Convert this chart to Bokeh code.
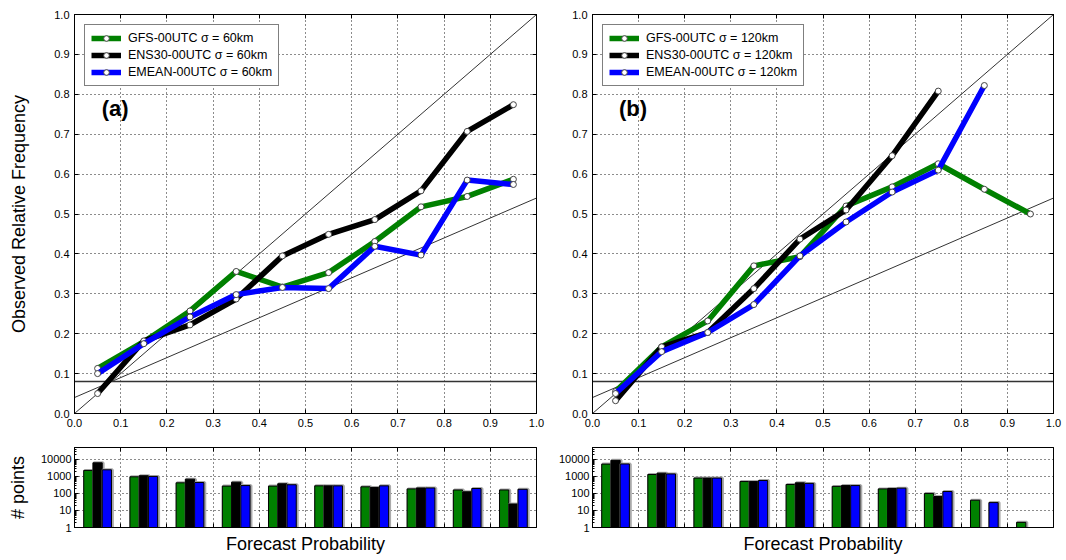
import math
from bokeh.plotting import figure
from bokeh.layouts import row, column
from bokeh.models import (Range1d, FixedTicker, PrintfTickFormatter, Legend, LegendItem,
                          Label, LinearAxis, NumeralTickFormatter)
from bokeh.embed import file_html
from bokeh.resources import INLINE

NaN = float("nan")

# ---------------- data ----------------
prob_bins = [0.05, 0.15, 0.25, 0.35, 0.45, 0.55, 0.65, 0.75, 0.85, 0.95]

# panel (a) sigma = 60 km : observed relative frequency
gfs_a = [0.113, 0.180, 0.257, 0.356, 0.317, 0.353, 0.431, 0.518, 0.544, 0.587]
ens_a = [0.050, 0.182, 0.222, 0.287, 0.395, 0.449, 0.486, 0.558, 0.707, 0.774]
emean_a = [0.100, 0.175, 0.242, 0.298, 0.316, 0.313, 0.419, 0.397, 0.585, 0.574]

# panel (b) sigma = 120 km
gfs_b = [0.055, 0.167, 0.232, 0.370, 0.393, 0.520, 0.568, 0.626, 0.562, 0.500]
ens_b = [0.032, 0.167, 0.203, 0.313, 0.437, 0.510, 0.646, 0.808, NaN, NaN]
emean_b = [0.050, 0.155, 0.203, 0.273, 0.395, 0.480, 0.555, 0.610, 0.822, NaN]

# number of points per bin
n_gfs_a = [2250, 950, 420, 270, 270, 280, 245, 185, 160, 160]
n_ens_a = [6300, 1100, 690, 460, 370, 280, 225, 210, 125, 24]
n_emean_a = [2450, 1000, 440, 290, 325, 280, 280, 210, 195, 175]

n_gfs_b = [5300, 1300, 800, 500, 335, 260, 185, 100, 40, 2]
n_ens_b = [8800, 1550, 800, 500, 420, 290, 195, 66, 0, 0]
n_emean_b = [5400, 1400, 800, 575, 390, 290, 205, 130, 29, 0]

climatology_a = 0.08
climatology_b = 0.08

labels_a = ["GFS-00UTC σ = 60km", "ENS30-00UTC σ = 60km", "EMEAN-00UTC σ = 60km"]
labels_b = ["GFS-00UTC σ = 120km", "ENS30-00UTC σ = 120km", "EMEAN-00UTC σ = 120km"]

colors = ["#008000", "#000000", "#0000ff"]
bar_offsets = [-0.02, 0.0, 0.02]
bar_width = 0.02

FONT = "Liberation Sans"
ticks01 = [round(i * 0.1, 1) for i in range(11)]


def style_axis(ax, size="11px"):
    ax.major_label_text_font = FONT
    ax.major_label_text_font_size = size
    ax.major_label_text_color = "black"
    ax.axis_line_color = "black"
    ax.major_tick_in = 4
    ax.major_tick_out = 0
    ax.minor_tick_in = 0
    ax.minor_tick_out = 0
    ax.major_tick_line_color = "black"
    ax.axis_label_text_font = FONT
    ax.axis_label_text_font_style = "normal"
    ax.axis_label_text_font_size = "18px"
    ax.axis_label_text_color = "black"


def hide_labels(ax):
    ax.major_label_text_font_size = "1px"
    ax.major_label_text_color = None
    ax.major_label_standoff = 0


def mirror_axis(p, side, ticker):
    ax = LinearAxis(ticker=ticker)
    style_axis(ax)
    hide_labels(ax)
    p.add_layout(ax, side)


def reliability(series, labels, clim, tag, bl, br, width, ylabel):
    p = figure(width=width, height=440, x_range=Range1d(0, 1), y_range=Range1d(0, 1),
               output_backend="svg", toolbar_location=None,
               min_border_left=bl, min_border_right=br, min_border_top=14, min_border_bottom=27)
    p.background_fill_color = "white"
    p.border_fill_color = "white"
    p.outline_line_color = "black"
    p.outline_line_width = 1
    tk = FixedTicker(ticks=ticks01)
    p.xaxis.ticker = tk
    p.yaxis.ticker = tk
    p.xaxis.formatter = PrintfTickFormatter(format="%.1f")
    p.yaxis.formatter = PrintfTickFormatter(format="%.1f")
    for ax in p.xaxis + p.yaxis:
        style_axis(ax)
        ax.major_label_standoff = 5
    p.yaxis.axis_label = ylabel
    p.yaxis.axis_label_standoff = 22
    mirror_axis(p, "right", tk)
    mirror_axis(p, "above", tk)
    for g in (p.xgrid, p.ygrid):
        g.grid_line_color = "black"
        g.grid_line_dash = "1 3"
        g.grid_line_width = 1
        g.grid_line_alpha = 0.9

    # reference lines: perfect reliability, no-skill, climatology
    p.line([0, 1], [0, 1], line_color="#333333", line_width=1)
    p.line([0, 1], [clim / 2, (1 + clim) / 2], line_color="#333333", line_width=1)
    p.line([0, 1], [clim, clim], line_color="#333333", line_width=1.5)

    items = []
    for ys, lab, col in zip(series, labels, colors):
        lr = p.line(prob_bins, ys, line_color=col, line_width=5.5)
        sr = p.scatter(prob_bins, ys, marker="circle", size=6, fill_color="white",
                       line_color="#444444", line_width=1)
        items.append(LegendItem(label=lab, renderers=[lr, sr]))

    leg = Legend(items=items, location="top_left", margin=10, padding=6, spacing=3,
                 glyph_width=30, glyph_height=14, label_standoff=7,
                 label_text_font=FONT, label_text_font_size="12.5px",
                 label_text_color="black",
                 border_line_color="black", border_line_width=1.2,
                 background_fill_color="white", background_fill_alpha=1)
    p.add_layout(leg)

    p.add_layout(Label(x=0.088, y=0.765, text=tag, text_font=FONT, text_font_size="22px",
                       text_color="black",
                       text_font_style="bold", text_align="center", text_baseline="middle"))
    return p


def counts(nseries, bl, br, width, ylabel):
    p = figure(width=width, height=120, x_range=Range1d(0, 1), y_range=Range1d(1, 50000),
               y_axis_type="log", output_backend="svg", toolbar_location=None,
               min_border_left=bl, min_border_right=br, min_border_top=7, min_border_bottom=33)
    p.background_fill_color = "white"
    p.border_fill_color = "white"
    p.outline_line_color = "black"
    p.outline_line_width = 1
    xtk = FixedTicker(ticks=ticks01)
    minors = [m * 10 ** d for d in range(0, 5) for m in range(2, 10)]
    ytk = FixedTicker(ticks=[1, 10, 100, 1000, 10000], minor_ticks=minors)
    p.xaxis.ticker = xtk
    p.yaxis.ticker = ytk
    p.yaxis.formatter = NumeralTickFormatter(format="0")
    for ax in p.xaxis + p.yaxis:
        style_axis(ax, "11px")
    p.yaxis.minor_tick_in = 2
    p.yaxis.minor_tick_line_color = "black"
    p.yaxis.major_label_standoff = 3
    hide_labels(p.xaxis[0])
    p.xaxis.axis_label = "Forecast Probability"
    p.xaxis.axis_label_standoff = 6
    p.yaxis.axis_label = ylabel
    p.yaxis.axis_label_standoff = 10
    mirror_axis(p, "above", xtk)
    for g in (p.xgrid, p.ygrid):
        g.grid_line_color = "black"
        g.grid_line_dash = "1 3"
        g.grid_line_width = 1
        g.grid_line_alpha = 0.9

    for vals, col, off in zip(nseries, colors, bar_offsets):
        xs = [c + off for c, v in zip(prob_bins, vals) if v and v > 0]
        tops = [v for v in vals if v and v > 0]
        p.vbar(x=[x + 0.002 for x in xs], top=tops, bottom=1, width=bar_width,
               fill_color=None, line_color="#aaaaaa", line_width=3)
        p.vbar(x=xs, top=tops, bottom=1, width=bar_width,
               fill_color=col, line_color="black", line_width=1)
    return p


pa = reliability([gfs_a, ens_a, emean_a], labels_a, climatology_a, "(a)", 74, 19, 555,
                 "Observed Relative Frequency")
pb = reliability([gfs_b, ens_b, emean_b], labels_b, climatology_b, "(b)", 37, 13, 511, "")
ca = counts([n_gfs_a, n_ens_a, n_emean_a], 74, 19, 555, "# points")
cb = counts([n_gfs_b, n_ens_b, n_emean_b], 37, 13, 511, "")

layout = row(column(pa, ca, spacing=0), column(pb, cb, spacing=0), spacing=0)

open("out.html", "w").write(file_html(layout, INLINE))
